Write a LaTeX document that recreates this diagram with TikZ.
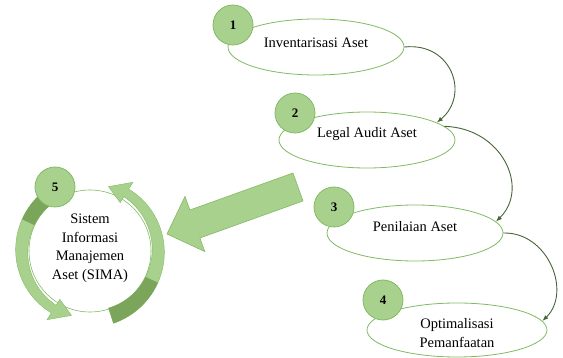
\documentclass[tikz,border=0pt]{standalone}
\usepackage{fontspec}
\setmainfont{Liberation Serif}
\usetikzlibrary{arrows.meta, shapes.geometric}

\definecolor{leaf}{RGB}{169,209,142}
\definecolor{leafline}{RGB}{130,186,100}
\definecolor{leafdark}{RGB}{122,165,90}
\definecolor{linkgreen}{RGB}{70,100,55}

\begin{document}
\begin{tikzpicture}[x=1pt, y=-1pt,
  every node/.style={font=\fontsize{14.5}{18.5}\selectfont},
  stage/.style={ellipse, draw=leafline, line width=0.8pt, fill=white,
    minimum width=176, minimum height=56, inner sep=0pt},
  num/.style={circle, draw=leafline, line width=0.8pt, fill=leaf,
    minimum size=40, inner sep=0pt, font=\fontsize{13}{13}\selectfont\bfseries},
  ring/.style={fill=leaf, draw=leafline, line width=0.4pt},
  ringdark/.style={fill=leafdark},
  bigarrow/.style={fill=leaf, draw=leafline, line width=0.6pt},
  link/.style={draw=linkgreen, line width=0.9pt, -{Latex[length=6pt,width=4.5pt]}}]

\useasboundingbox (0,0) rectangle (563,358);

% stages
\node[stage] (e1) at (316,47) {};
\node[stage] (e2) at (367,140) {};
\node[stage] (e3) at (415,233) {};
\node[stage, minimum width=180, minimum height=54] (e4) at (457,330) {};

\node (t1) at ([yshift=4pt]e1.center) {Inventarisasi Aset};
\node (t2) at ([yshift=6pt]e2.center) {Legal Audit Aset};
\node (t3) at ([yshift=6pt]e3.center) {Penilaian Aset};
\node[align=center] (t4) at ([yshift=-3pt]e4.center) {Optimalisasi\\Pemanfaatan};

\node[num] (n1) at (233,25) {1};
\node[num] (n2) at (295,113) {2};
\node[num] (n3) at (334,207) {3};
\node[num] (n4) at (383,300) {4};

\draw[link] (e1.east) .. controls (452,42) and (470,95) .. (e2.14);
\draw[link] (e2.10) .. controls (502,128) and (530,188) .. (e3.8);
\draw[link] (e3.east) .. controls (548,232) and (572,292) .. (e4.6);

% SIMA cycle
\node[circle, draw=leafline, line width=0.6pt, fill=white, minimum size=122,
  inner sep=0pt] (sima) at (90,251) {};

\begin{scope}[shift={(90,251)}]
% right half, pointing up
\draw[ring] plot[domain=72:-58, samples=40] (\x:{76-3*(72-\x)/130})
  -- (-58:81) -- (-74:67) -- (-58:57)
  -- plot[domain=-58:72, samples=40] (\x:{64-4*(\x+58)/130}) -- cycle;
\fill[ringdark] plot[domain=72:25, samples=20] (\x:{76-3*(72-\x)/130})
  -- plot[domain=25:72, samples=20] (\x:{64-4*(\x+58)/130}) -- cycle;
% left half, pointing down
\draw[ring] plot[domain=-108:-238, samples=40] (\x:{76-3*(-108-\x)/130})
  -- (-238:81) -- (-254:67) -- (-238:57)
  -- plot[domain=-238:-108, samples=40] (\x:{64-4*(\x+238)/130}) -- cycle;
\fill[ringdark] plot[domain=-108:-155, samples=20] (\x:{76-3*(-108-\x)/130})
  -- plot[domain=-155:-108, samples=20] (\x:{64-4*(\x+238)/130}) -- cycle;
\end{scope}

\node[align=center] (simatext) at ([yshift=3pt]sima.center)
  {Sistem\\Informasi\\Manajemen\\Aset (SIMA)};
\node[num] (n5) at (55,187) {5};

% big arrow into SIMA
\draw[bigarrow] (293,173) -- (189.9,210) -- (185,196.4) -- (167,234)
  -- (204.8,251.6) -- (199.9,238) -- (303,201) -- cycle;

\end{tikzpicture}
\end{document}
